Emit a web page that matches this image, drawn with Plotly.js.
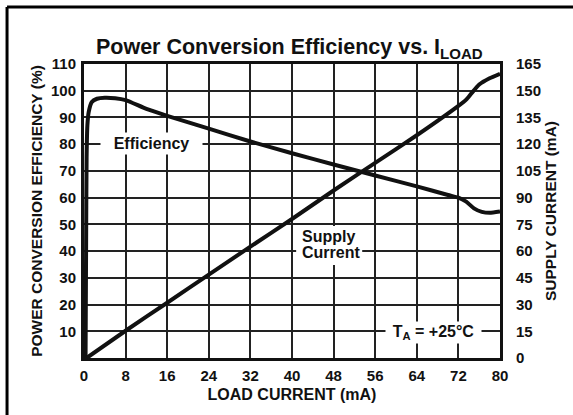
<!DOCTYPE html>
<html>
<head>
<meta charset="utf-8">
<script src="https://cdn.plot.ly/plotly-3.0.1.min.js"></script>
<style>
html,body{margin:0;padding:0;background:#fff;}
#chart{width:573px;height:415px;}
</style>
</head>
<body>
<div id="chart"></div>
<script>
// Efficiency curve (left axis, %)
const loadEff = [0.3, 0.4, 0.5, 0.65, 0.9, 1.5, 2.5, 4, 6, 8, 12, 16, 24, 32, 40, 48, 56, 64, 70, 72, 73.5, 75, 76.5, 78, 80];
const efficiency = [0, 40, 75, 87, 92, 95.8, 97, 97.4, 97.2, 96.5, 93.2, 90.6, 85.8, 81, 76.6, 72.4, 68.3, 64.2, 61, 60, 58.5, 56, 54.7, 54.3, 54.8];
// Supply current curve (right axis, mA)
const loadSup = [0.5, 8, 16, 24, 32, 40, 48, 56, 64, 72, 73.5, 74.5, 76, 78, 80];
const supplyCurrent = [0, 15.3, 31, 46.8, 62.5, 78, 94, 109.5, 125, 141.5, 145, 148.5, 153.5, 157, 159.5];
// Ticks
const xTicks = [0, 8, 16, 24, 32, 40, 48, 56, 64, 72, 80];
const yLeftTicks = [10, 20, 30, 40, 50, 60, 70, 80, 90, 100, 110];
const yRightTicks = [0, 15, 30, 45, 60, 75, 90, 105, 120, 135, 150, 165];

const FONT = 'Liberation Sans, Arial, Helvetica, sans-serif';
const INK = '#111';
const GRID = '#222';

const traces = [
  {x: loadEff, y: efficiency, type: 'scatter', mode: 'lines',
   line: {color: INK, width: 4, shape: 'spline', smoothing: 0.6}, yaxis: 'y', hoverinfo: 'skip'},
  {x: loadSup, y: supplyCurrent, type: 'scatter', mode: 'lines',
   line: {color: INK, width: 4, shape: 'spline', smoothing: 0.5}, yaxis: 'y2', hoverinfo: 'skip'}
];

const annFont = {size: 16, family: FONT, color: INK};

const layout = {
  width: 573, height: 415,
  margin: {l: 84, r: 73, t: 64, b: 57},
  paper_bgcolor: '#fff', plot_bgcolor: 'rgba(0,0,0,0)',
  showlegend: false,
  font: {family: FONT, color: INK},
  title: {text: '<b>Power Conversion Efficiency vs. I<sub>LOAD</sub></b>',
          font: {size: 21.5, family: FONT, color: INK},
          x: 0.505, xanchor: 'center', y: 0.888, yanchor: 'middle'},
  xaxis: {range: [0, 80], tickvals: xTicks, ticktext: xTicks.map(String),
          showgrid: true, gridcolor: GRID, gridwidth: 2,
          showline: true, linecolor: INK, linewidth: 3, mirror: true,
          ticks: '', zeroline: false, ticklabelstandoff: 2,
          tickfont: {size: 15, family: FONT, color: INK, weight: 'bold'},
          title: {text: '<b>LOAD CURRENT (mA)</b>', font: {size: 16, family: FONT, color: INK}, standoff: 6}},
  yaxis: {range: [0, 110], tickvals: yLeftTicks, ticktext: yLeftTicks.map(String),
          showgrid: false,
          showline: true, linecolor: INK, linewidth: 3, mirror: true,
          ticks: '', zeroline: false, ticklabelstandoff: 2,
          tickfont: {size: 15, family: FONT, color: INK, weight: 'bold'},
          title: {text: '<b>POWER CONVERSION EFFICIENCY (%)</b>', font: {size: 15.5, family: FONT, color: INK}, standoff: 5}},
  yaxis2: {range: [0, 165], tickvals: yRightTicks, ticktext: yRightTicks.map(String),
           overlaying: 'y', side: 'right', showgrid: true, gridcolor: GRID, gridwidth: 2,
           zeroline: false, showline: false, ticks: '', ticklabelstandoff: 15,
           tickfont: {size: 15, family: FONT, color: INK, weight: 'bold'},
           title: {text: '<b>SUPPLY CURRENT (mA)</b>', font: {size: 15.5, family: FONT, color: INK}, standoff: 5}},
  annotations: [
    {x: 13, y: 80.3, xref: 'x', yref: 'y', text: '<b>Efficiency</b>', showarrow: false,
     font: annFont, bgcolor: '#fff', borderpad: 2, width: 97, align: 'center',
     xanchor: 'center', yanchor: 'middle'},
    {x: 41.5, y: 45.4, xref: 'x', yref: 'y', text: '<b>Supply</b>', showarrow: false,
     font: annFont, align: 'left', xanchor: 'left', yanchor: 'middle'},
    {x: 41.5, y: 39.4, xref: 'x', yref: 'y', text: '<b>Current</b>', showarrow: false,
     font: annFont, align: 'left', xanchor: 'left', yanchor: 'middle'},
    {x: 67.3, y: 9.6, xref: 'x', yref: 'y', text: '<b>T<sub>A</sub> = +25°C</b>', showarrow: false,
     font: annFont, bgcolor: '#fff', borderpad: 1, width: 93, align: 'center',
     xanchor: 'center', yanchor: 'middle'}
  ],
  shapes: [
    // white backing behind the two-line "Supply Current" label
    {type: 'rect', layer: 'above', xref: 'x', yref: 'y', x0: 40.8, x1: 53.5, y0: 34.8, y1: 49.4,
     fillcolor: '#fff', line: {width: 0}},
    {type: 'line', xref: 'paper', yref: 'paper', x0: -0.185, x1: -0.185, y0: -0.25, y1: 1.194,
     line: {color: '#000', width: 3}},
    {type: 'line', xref: 'paper', yref: 'paper', x0: -0.185, x1: 1.25, y0: 1.194, y1: 1.194,
     line: {color: '#000', width: 3}}
  ]
};

Plotly.newPlot('chart', traces, layout, {staticPlot: true, displayModeBar: false});
</script>
</body>
</html>
